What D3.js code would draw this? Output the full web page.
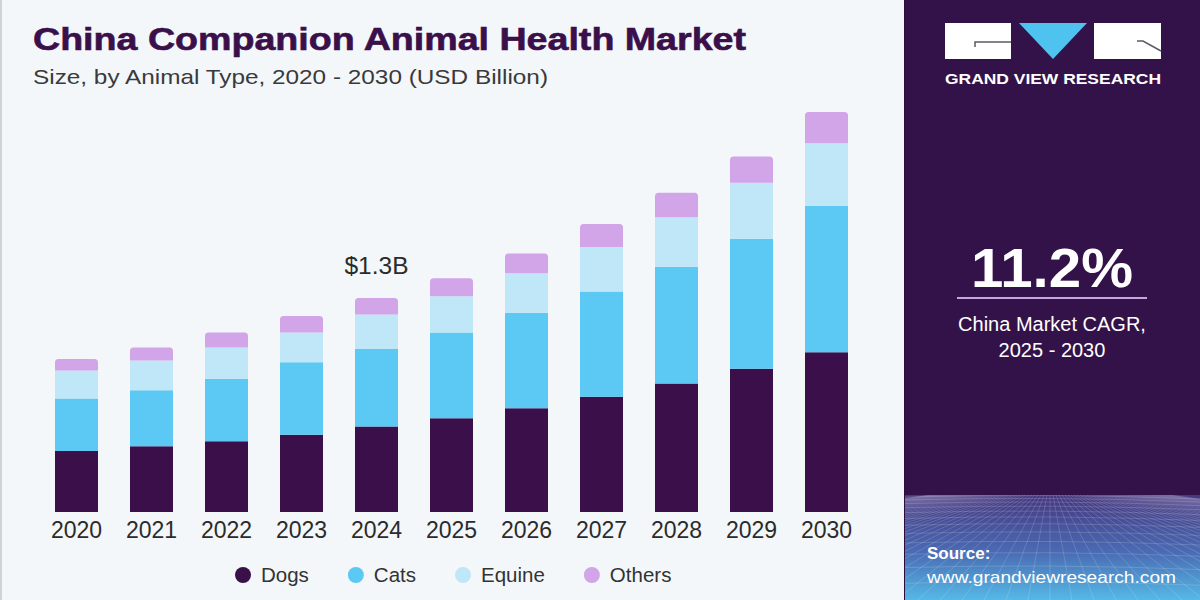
<!DOCTYPE html>
<html>
<head>
<meta charset="utf-8">
<script src="https://cdn.jsdelivr.net/npm/d3@7"></script>
<style>
html,body{margin:0;padding:0;background:#f3f7fa;}
svg{display:block;}
</style>
</head>
<body>
<svg id="chart" width="1200" height="600"></svg>
<script>
// ---- data ----
const years = ["2020","2021","2022","2023","2024","2025","2026","2027","2028","2029","2030"];
const dogs   = [0.37,0.40,0.43,0.47,0.52,0.57,0.63,0.70,0.78,0.87,0.97];
const cats   = [0.32,0.34,0.38,0.44,0.47,0.52,0.58,0.64,0.71,0.79,0.89];
const equine = [0.17,0.18,0.19,0.18,0.21,0.22,0.24,0.27,0.30,0.34,0.38];
const others = [0.07,0.08,0.09,0.10,0.10,0.11,0.12,0.14,0.15,0.16,0.19];
const seriesNames = ["Dogs","Cats","Equine","Others"];
const seriesColors = ["#3a0f4a","#5bc9f3","#bfe7f8","#d2a4e8"];
const annotationYear = "2024";
const annotationText = "$1.3B";
const cagrValue = "11.2%";
const cagrLabel = ["China Market CAGR,","2025 - 2030"];

const svg = d3.select("#chart");
const font = "'Liberation Sans', Arial, sans-serif";

// background
svg.append("rect").attr("x",0).attr("y",0).attr("width",1200).attr("height",600).attr("fill","#f3f7fa");
svg.append("rect").attr("x",0).attr("y",0).attr("width",2).attr("height",600).attr("fill","#cfd3d8");

// titles
svg.append("text").attr("x",33).attr("y",50)
  .attr("font-family",font).attr("font-weight",900).attr("font-size",31)
  .attr("fill","#3a0f4a").attr("stroke","#3a0f4a").attr("stroke-width",0.6)
  .attr("textLength",713).attr("lengthAdjust","spacingAndGlyphs")
  .text("China Companion Animal Health Market");
svg.append("text").attr("x",33).attr("y",84)
  .attr("font-family",font).attr("font-size",21)
  .attr("fill","#3a3a3a").attr("textLength",515).attr("lengthAdjust","spacingAndGlyphs")
  .text("Size, by Animal Type, 2020 - 2030 (USD Billion)");

// scales
const x = d3.scaleBand().domain(years).range([39,864]).paddingInner(0.4267).paddingOuter(0.2133);
const y = d3.scaleLinear().domain([0,1.3]).range([512,298]);

const table = years.map((yr,i)=>({year:yr, Dogs:dogs[i], Cats:cats[i], Equine:equine[i], Others:others[i]}));
const stack = d3.stack().keys(seriesNames)(table);

function topRounded(x0,y0,w,h,r){
  r = Math.min(r,h,w/2);
  return `M${x0},${y0+h}V${y0+r}Q${x0},${y0} ${x0+r},${y0}H${x0+w-r}Q${x0+w},${y0} ${x0+w},${y0+r}V${y0+h}Z`;
}

const g = svg.append("g");
stack.forEach((layer,li)=>{
  const isTop = li===stack.length-1;
  g.append("g").attr("fill",seriesColors[li])
    .selectAll("path").data(layer).join("path")
    .attr("d",d=>{
      const x0 = x(d.data.year), w = x.bandwidth();
      const y0 = y(d[1]), h = y(d[0]) - y(d[1]);
      return isTop ? topRounded(x0,y0,w,h,3.5) : `M${x0},${y0}h${w}v${h}h${-w}Z`;
    });
});

// x axis labels
const xAxis = d3.axisBottom(x).tickSize(0).tickPadding(10);
const ax = svg.append("g").attr("transform","translate(0,512)").call(xAxis);
ax.select(".domain").remove();
ax.selectAll("text").attr("font-family",font).attr("font-size",23).attr("fill","#2b2b2b")
  .attr("dy","0.71em");

// annotation
const annIdx = years.indexOf(annotationYear);
const annTotal = dogs[annIdx]+cats[annIdx]+equine[annIdx]+others[annIdx];
svg.append("text").attr("x",x(annotationYear)+x.bandwidth()/2).attr("y",y(annTotal)-24)
  .attr("text-anchor","middle").attr("font-family",font).attr("font-size",23).attr("fill","#2b2b2b")
  .attr("textLength",64).attr("lengthAdjust","spacingAndGlyphs")
  .text(annotationText);

// legend
const lg = svg.append("g");
let lx = 243;
seriesNames.forEach((nm,i)=>{
  lg.append("circle").attr("cx",lx).attr("cy",575).attr("r",8).attr("fill",seriesColors[i]);
  const t = lg.append("text").attr("x",lx+18).attr("y",582).attr("font-family",font)
    .attr("font-size",20.5).attr("fill","#333").text(nm);
  const w = t.node().getComputedTextLength();
  lx = lx + 18 + w + 47;
});

// ---- right panel ----
const px = 905;
const defs = svg.append("defs");
const grad = defs.append("linearGradient").attr("id","pgrad").attr("x1",0).attr("y1",0).attr("x2",0).attr("y2",1);
grad.append("stop").attr("offset","0%").attr("stop-color","#463780");
grad.append("stop").attr("offset","55%").attr("stop-color","#4a6cb4");
grad.append("stop").attr("offset","100%").attr("stop-color","#55b9e6");
defs.append("clipPath").attr("id","pclip").append("rect").attr("x",px).attr("y",495).attr("width",1200-px).attr("height",105);

svg.append("rect").attr("x",px).attr("y",0).attr("width",1200-px).attr("height",600).attr("fill","#33124a");
svg.append("rect").attr("x",px).attr("y",495).attr("width",1200-px).attr("height",105).attr("fill","url(#pgrad)");
svg.append("rect").attr("x",px-1).attr("y",0).attr("width",1).attr("height",600).attr("fill","#2a0d3c");

// perspective grid
const grid = svg.append("g").attr("clip-path","url(#pclip)").attr("stroke","#ffffff").attr("stroke-opacity",0.2).attr("stroke-width",0.8).attr("fill","none");
const vpX = 1050;
for(let k=-40;k<=40;k++){
  const bx = vpX + k*22;
  grid.append("line").attr("x1",vpX + k*3).attr("y1",495).attr("x2",bx).attr("y2",600);
}
let hy = 497, step = 3;
while(hy < 600){
  grid.append("path").attr("d",`M${px},${hy} Q1050,${hy-4} 1200,${hy+2}`);
  hy += step; step *= 1.18;
}

// logo
const logo = svg.append("g");
logo.append("rect").attr("x",945).attr("y",23).attr("width",66).attr("height",36).attr("fill","#ffffff");
logo.append("path").attr("d","M975,47V42H1011").attr("stroke","#5a5a6a").attr("stroke-width",1.5).attr("fill","none");
logo.append("path").attr("d","M1019,23H1087L1053,59Z").attr("fill","#4fc3f0");
logo.append("rect").attr("x",1094).attr("y",23).attr("width",67).attr("height",36).attr("fill","#ffffff");
logo.append("path").attr("d","M1137,41H1143L1161,51").attr("stroke","#5a5a6a").attr("stroke-width",1.5).attr("fill","none");
logo.append("text").attr("x",945).attr("y",84).attr("font-family",font).attr("font-weight",700)
  .attr("font-size",15).attr("fill","#ffffff").attr("textLength",216).attr("lengthAdjust","spacingAndGlyphs")
  .text("GRAND VIEW RESEARCH");

// CAGR
svg.append("text").attr("x",1052).attr("y",287).attr("text-anchor","middle").attr("font-family",font)
  .attr("font-weight",700).attr("font-size",56).attr("fill","#ffffff")
  .attr("textLength",162).attr("lengthAdjust","spacingAndGlyphs").text(cagrValue);
svg.append("line").attr("x1",957).attr("x2",1147).attr("y1",298).attr("y2",298)
  .attr("stroke","#c6a6de").attr("stroke-width",2);
cagrLabel.forEach((t,i)=>{
  svg.append("text").attr("x",1052).attr("y",331+i*26).attr("text-anchor","middle").attr("font-family",font)
    .attr("font-size",20).attr("fill","#ffffff").text(t);
});

// source
svg.append("text").attr("x",927).attr("y",559).attr("font-family",font).attr("font-weight",700)
  .attr("font-size",17).attr("fill","#ffffff").text("Source:");
svg.append("text").attr("x",927).attr("y",583).attr("font-family",font)
  .attr("font-size",17).attr("fill","#ffffff").attr("textLength",249).attr("lengthAdjust","spacingAndGlyphs")
  .text("www.grandviewresearch.com");
</script>
</body>
</html>
